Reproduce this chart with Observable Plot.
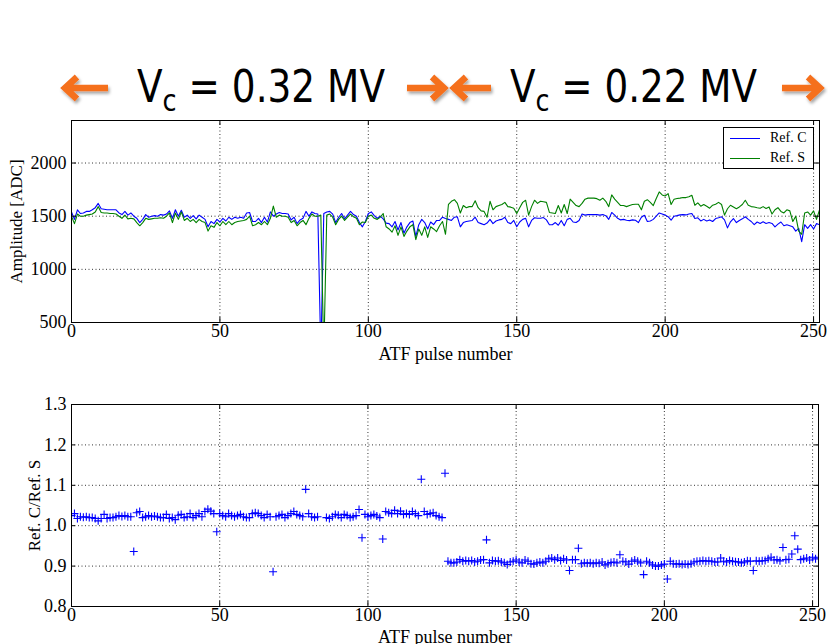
<!DOCTYPE html>
<html>
<head>
<meta charset="utf-8">
<script src="https://cdn.jsdelivr.net/npm/d3@7"></script>
<script src="https://cdn.jsdelivr.net/npm/@observablehq/plot@0.6"></script>
<style>
  html, body { margin: 0; padding: 0; background: #fff; }
  body { width: 828px; height: 644px; position: relative; overflow: hidden; font-family: "Liberation Serif", serif; }
  #header { position: absolute; left: 0; top: 0; overflow: visible; z-index: 2; }
  #topChart { position: absolute; left: 0; top: 110px; z-index: 1; }
  #bottomChart { position: absolute; left: 0; top: 394px; }
  #topChart svg, #topChart svg text, #bottomChart svg, #bottomChart svg text { font-family: "Liberation Serif", "Times New Roman", serif !important; }
  #legend { position: absolute; left: 723px; top: 127px; width: 91px; height: 42px; border: 1px solid #000; background: #fff;
            font-family: "Liberation Serif", serif; font-size: 14px; box-sizing: border-box; z-index: 3; }
  .lg-row { position: absolute; left: 0; height: 16px; width: 100%; }
  .lg-line { position: absolute; left: 6px; top: 9px; width: 30px; height: 0; border-top: 1.2px solid; }
  .lg-text { position: absolute; left: 46px; top: 0; line-height: 18px; }
</style>
</head>
<body>
<svg id="header" width="828" height="120" xmlns="http://www.w3.org/2000/svg"></svg>
<div id="topChart"></div>
<div id="bottomChart"></div>
<div id="legend">
  <div class="lg-row" style="top:1px"><div class="lg-line" style="border-color:#0000ff"></div><div class="lg-text">Ref. C</div></div>
  <div class="lg-row" style="top:21px"><div class="lg-line" style="border-color:#008000"></div><div class="lg-text">Ref. S</div></div>
</div>
<script>
// ---------------- data ----------------
const titleLeft = "0.32 MV";
const titleRight = "0.22 MV";
const seriesNames = ["Ref. C", "Ref. S"];
const xTicks = [0, 50, 100, 150, 200, 250];
const yTicksTop = [500, 1000, 1500, 2000];
const yTicksBottom = [0.8, 0.9, 1.0, 1.1, 1.2, 1.3];
const yTickLabelsBottom = ["0.8", "0.9", "1.0", "1.1", "1.2", "1.3"];

// Ref. C amplitude per ATF pulse (index = pulse number)
const refC = [
  1540,1470,1560,1525,1530,1545,1545,1560,1580,1620,
  1570,1565,1560,1560,1560,1560,1530,1515,1545,1510,
  1530,1500,1480,1440,1470,1515,1490,1500,1505,1500,
  1515,1510,1520,1550,1480,1560,1500,1555,1490,1510,
  1480,1505,1475,1510,1490,1470,1400,1450,1430,1470,
  1445,1480,1455,1490,1470,1490,1480,1490,1480,1530,
  1535,1450,1450,1480,1440,1490,1445,1540,1500,1520,
  1535,1525,1525,1520,1465,1490,1430,1465,1480,1545,
  1500,1540,1525,1520,200,1525,1540,1545,1520,1440,
  1490,1525,1475,1510,1545,1515,1500,1440,1400,1450,
  1525,1540,1505,1480,1500,1475,1435,1430,1400,1450,
  1370,1440,1340,1400,1440,1455,1310,1420,1470,1440,
  1380,1445,1420,1460,1460,1490,1478,1470,1460,1490,
  1494,1400,1440,1450,1455,1460,1490,1440,1430,1420,
  1435,1470,1430,1455,1465,1470,1490,1440,1430,1460,
  1400,1445,1470,1480,1400,1460,1485,1480,1480,1487,
  1465,1420,1420,1440,1415,1460,1410,1470,1480,1445,
  1440,1460,1520,1510,1515,1515,1515,1515,1510,1515,
  1505,1470,1535,1510,1480,1465,1470,1462,1458,1465,
  1462,1440,1490,1509,1450,1455,1470,1500,1530,1520,
  1510,1495,1462,1500,1505,1512,1515,1512,1520,1525,
  1478,1485,1455,1470,1455,1465,1450,1478,1485,1494,
  1465,1390,1447,1478,1440,1460,1475,1495,1470,1450,
  1420,1445,1432,1447,1432,1440,1432,1400,1425,1445,
  1410,1420,1410,1400,1360,1385,1260,1420,1385,1420,
  1380,1430,1420
];
// Ref. S amplitude per ATF pulse
const refS = [
  1500,1430,1520,1500,1500,1510,1515,1520,1540,1590,
  1535,1530,1530,1525,1525,1520,1500,1480,1510,1475,
  1480,1475,1440,1410,1440,1480,1470,1475,1480,1480,
  1485,1480,1500,1530,1440,1530,1470,1540,1460,1480,
  1450,1470,1440,1470,1450,1440,1360,1410,1395,1440,
  1410,1450,1420,1450,1420,1440,1450,1455,1460,1470,
  1500,1410,1420,1440,1420,1450,1420,1480,1595,1490,
  1510,1500,1500,1490,1440,1460,1410,1440,1460,1420,
  1480,1520,1500,1500,1510,200,1510,1520,1490,1420,
  1470,1500,1460,1490,1520,1495,1480,1420,1445,1440,
  1500,1510,1480,1470,1490,1525,1400,1380,1350,1410,
  1320,1400,1310,1360,1400,1420,1280,1380,1320,1400,
  1300,1400,1380,1355,1410,1450,1330,1612,1640,1655,
  1620,1530,1600,1580,1590,1590,1645,1580,1550,1545,
  1490,1640,1560,1590,1600,1610,1630,1590,1585,1575,
  1525,1580,1630,1650,1510,1590,1650,1620,1640,1635,
  1630,1535,1530,1525,1600,1530,1610,1525,1660,1630,
  1600,1590,1620,1660,1670,1670,1670,1665,1650,1670,
  1640,1590,1700,1660,1630,1600,1600,1590,1600,1610,
  1612,1612,1560,1640,1655,1630,1600,1666,1728,1700,
  1690,1712,1610,1660,1666,1670,1675,1675,1682,1697,
  1603,1625,1594,1610,1594,1575,1603,1612,1630,1610,
  1510,1570,1603,1587,1570,1587,1610,1650,1603,1590,
  1587,1580,1575,1590,1572,1587,1520,1560,1580,1545,
  1530,1560,1550,1450,1500,1360,1330,1530,1540,1510,
  1550,1470,1560
];
// Ref. C / Ref. S ratio per ATF pulse (null = off the chart)
const ratio = [
  1.025,1.030,1.018,1.022,1.021,1.022,1.020,1.020,1.018,1.012,
  1.018,1.028,1.018,1.020,1.020,1.022,1.025,1.023,1.025,1.022,
  1.022,0.936,1.032,1.035,1.020,1.022,1.025,1.022,1.024,1.022,
  1.020,1.020,1.028,1.018,1.020,1.015,1.026,1.028,1.020,1.022,
  1.030,1.020,1.025,1.030,1.022,1.035,1.041,1.036,1.030,0.985,
  1.030,1.025,1.022,1.030,1.025,1.022,1.025,1.028,1.022,1.020,
  1.020,1.030,1.032,1.030,1.025,1.020,1.028,1.022,0.886,1.022,
  1.025,1.028,1.020,1.025,1.030,1.035,1.028,1.025,1.022,1.090,
  1.030,1.022,1.020,1.022,null,null,1.020,1.018,1.022,1.028,
  1.026,1.020,1.028,1.025,1.020,1.022,1.025,1.040,0.970,1.028,
  1.022,1.025,1.028,1.024,1.020,0.967,1.035,1.032,1.030,1.038,
  1.030,1.036,1.028,1.030,1.028,1.035,1.030,1.025,1.115,1.035,
  1.028,1.030,1.032,1.025,1.022,1.020,1.130,0.912,0.908,0.908,
  0.910,0.916,0.912,0.914,0.912,0.914,0.910,0.912,0.915,0.916,
  0.965,0.908,0.914,0.912,0.913,0.910,0.908,0.904,0.910,0.912,
  0.915,0.910,0.908,0.915,0.912,0.906,0.905,0.908,0.910,0.908,
  0.912,0.918,0.920,0.916,0.920,0.914,0.918,0.915,0.889,0.916,
  0.916,0.944,0.906,0.908,0.907,0.908,0.906,0.908,0.907,0.910,
  0.903,0.906,0.909,0.910,0.908,0.928,0.912,0.910,0.905,0.912,
  0.915,0.912,0.908,0.879,0.912,0.908,0.903,0.900,0.900,0.903,
  0.905,0.868,0.912,0.906,0.905,0.906,0.904,0.905,0.904,0.906,
  0.910,0.912,0.912,0.914,0.912,0.913,0.912,0.910,0.910,0.920,
  0.912,0.910,0.914,0.912,0.911,0.910,0.908,0.910,0.913,0.912,
  0.889,0.913,0.912,0.913,0.914,0.918,0.922,0.915,0.916,0.913,
  0.946,0.916,0.917,0.930,0.975,0.942,0.916,0.918,0.920,0.915,
  0.922,0.918,0.922
];

// ---------------- header (voltage annotations) ----------------
const NS = "http://www.w3.org/2000/svg";
const header = document.getElementById("header");
header.innerHTML = `
  <defs>
    <filter id="sh" x="-30%" y="-60%" width="160%" height="220%">
      <feDropShadow dx="1.5" dy="2.5" stdDeviation="1.6" flood-color="#000" flood-opacity="0.35"/>
    </filter>
  </defs>`;
function arrow(x0, x1, y, dir) {
  const g = document.createElementNS(NS, "g");
  g.setAttribute("filter", "url(#sh)");
  const tip = dir < 0 ? x0 + 3 : x1 - 3;
  const tail = dir < 0 ? x1 : x0;
  const back = tip - dir * 12;
  const p = document.createElementNS(NS, "path");
  p.setAttribute("d", `M${tail},${y} L${tip},${y} M${back},${y - 11} L${tip},${y} L${back},${y + 11}`);
  p.setAttribute("fill", "none");
  p.setAttribute("stroke", "#f5701e");
  p.setAttribute("stroke-width", "6.5");
  p.setAttribute("stroke-linejoin", "miter");
  g.appendChild(p);
  header.appendChild(g);
}
function vtext(x, len, value) {
  const t = document.createElementNS(NS, "text");
  t.setAttribute("x", x);
  t.setAttribute("y", 102);
  t.setAttribute("font-family", '"DejaVu Sans", Verdana, sans-serif');
  t.setAttribute("font-size", "44");
  t.setAttribute("fill", "#000");
  t.setAttribute("textLength", len);
  t.setAttribute("lengthAdjust", "spacingAndGlyphs");
  t.innerHTML = `<tspan>V</tspan><tspan dy="9" font-size="30">c</tspan><tspan dy="-9"> = ${value}</tspan>`;
  header.appendChild(t);
}
arrow(62, 108, 88, -1);
vtext(137, 248, titleLeft);
arrow(407, 447, 88, 1);
arrow(451, 491, 88, -1);
vtext(510, 247, titleRight);
arrow(782, 823, 88, 1);

// ---------------- charts ----------------
const rowsTop = refC.map((c, i) => ({pulse: i, c, s: refS[i]}));
const rowsBottom = ratio.map((r, i) => ({pulse: i, r}));

const plusSymbol = {
  draw(ctx, size) {
    const r = Math.sqrt(size / Math.PI);
    ctx.moveTo(-r, 0); ctx.lineTo(r, 0);
    ctx.moveTo(0, -r); ctx.lineTo(0, r);
  }
};

const W = 828, ML = 71, MR = 9, MT = 10;
const plotW = W - ML - MR;
const grid = {stroke: "#000", strokeOpacity: 1, strokeWidth: 0.8, strokeDasharray: "1,2.5"};
const serif = '"Liberation Serif", serif';
const baseStyle = {background: "#fff", color: "#000", fontFamily: serif, fontSize: "18px", overflow: "visible"};

function innerTicks(ph, yT) {
  return [
    Plot.tickX(xTicks, {x: d => d, stroke: "#000", insetTop: ph - 5}),
    Plot.tickX(xTicks, {x: d => d, stroke: "#000", insetBottom: ph - 5}),
    Plot.tickY(yT, {y: d => d, stroke: "#000", insetRight: plotW - 5}),
    Plot.tickY(yT, {y: d => d, stroke: "#000", insetLeft: plotW - 5})
  ];
}

// top panel
{
  const H = 258, MB = 46, ph = H - MT - MB;
  const chart = Plot.plot({
    width: W, height: H, marginLeft: ML, marginRight: MR, marginTop: MT, marginBottom: MB,
    style: baseStyle,
    x: {domain: [0, 252]},
    y: {domain: [500, 2400]},
    marks: [
      Plot.gridX(xTicks, grid),
      Plot.gridY(yTicksTop, grid),
      Plot.lineY(rowsTop, {x: "pulse", y: "c", stroke: "#0000ff", strokeWidth: 1.1, clip: true}),
      Plot.lineY(rowsTop, {x: "pulse", y: "s", stroke: "#008000", strokeWidth: 1.1, clip: true}),
      ...innerTicks(ph, yTicksTop),
      Plot.frame({stroke: "#000"}),
      Plot.axisX(xTicks, {tickSize: 0, tickPadding: 2, tickFormat: d => String(d), fontFamily: serif, label: "ATF pulse number", labelAnchor: "center", labelArrow: false, labelOffset: 37}),
      Plot.axisY(yTicksTop, {tickSize: 0, tickPadding: 5, tickFormat: d => String(d), fontFamily: serif, label: "Amplitude [ADC]", labelAnchor: "center", labelArrow: false, labelOffset: 62})
    ]
  });
  chart.querySelectorAll("[aria-label='y-axis label'] text").forEach(t => t.setAttribute("font-size", "17"));
  document.getElementById("topChart").appendChild(chart);
}

// bottom panel
{
  const H = 250, MB = 38, ph = H - MT - MB;
  const chart = Plot.plot({
    width: W, height: H, marginLeft: ML, marginRight: MR + 1, marginTop: MT, marginBottom: MB,
    style: baseStyle,
    x: {domain: [0, 252]},
    y: {domain: [0.8, 1.3]},
    marks: [
      Plot.gridX(xTicks, grid),
      Plot.gridY(yTicksBottom, grid),
      Plot.dot(rowsBottom, {x: "pulse", y: "r", symbol: plusSymbol, r: 4, stroke: "#0000ff", fill: "none", strokeWidth: 1.1, clip: true}),
      ...innerTicks(ph, yTicksBottom),
      Plot.frame({stroke: "#000"}),
      Plot.axisX(xTicks, {tickSize: 0, tickPadding: 2, tickFormat: d => String(d), fontFamily: serif, label: "ATF pulse number", labelAnchor: "center", labelArrow: false, labelOffset: 36}),
      Plot.axisY(yTicksBottom, {tickSize: 0, tickPadding: 5, tickFormat: (d, i) => yTickLabelsBottom[i], fontFamily: serif, label: "Ref. C/Ref. S", labelAnchor: "center", labelArrow: false, labelOffset: 44})
    ]
  });
  chart.querySelectorAll("[aria-label='y-axis label'] text").forEach(t => t.setAttribute("font-size", "17"));
  document.getElementById("bottomChart").appendChild(chart);
}
</script>
</body>
</html>
